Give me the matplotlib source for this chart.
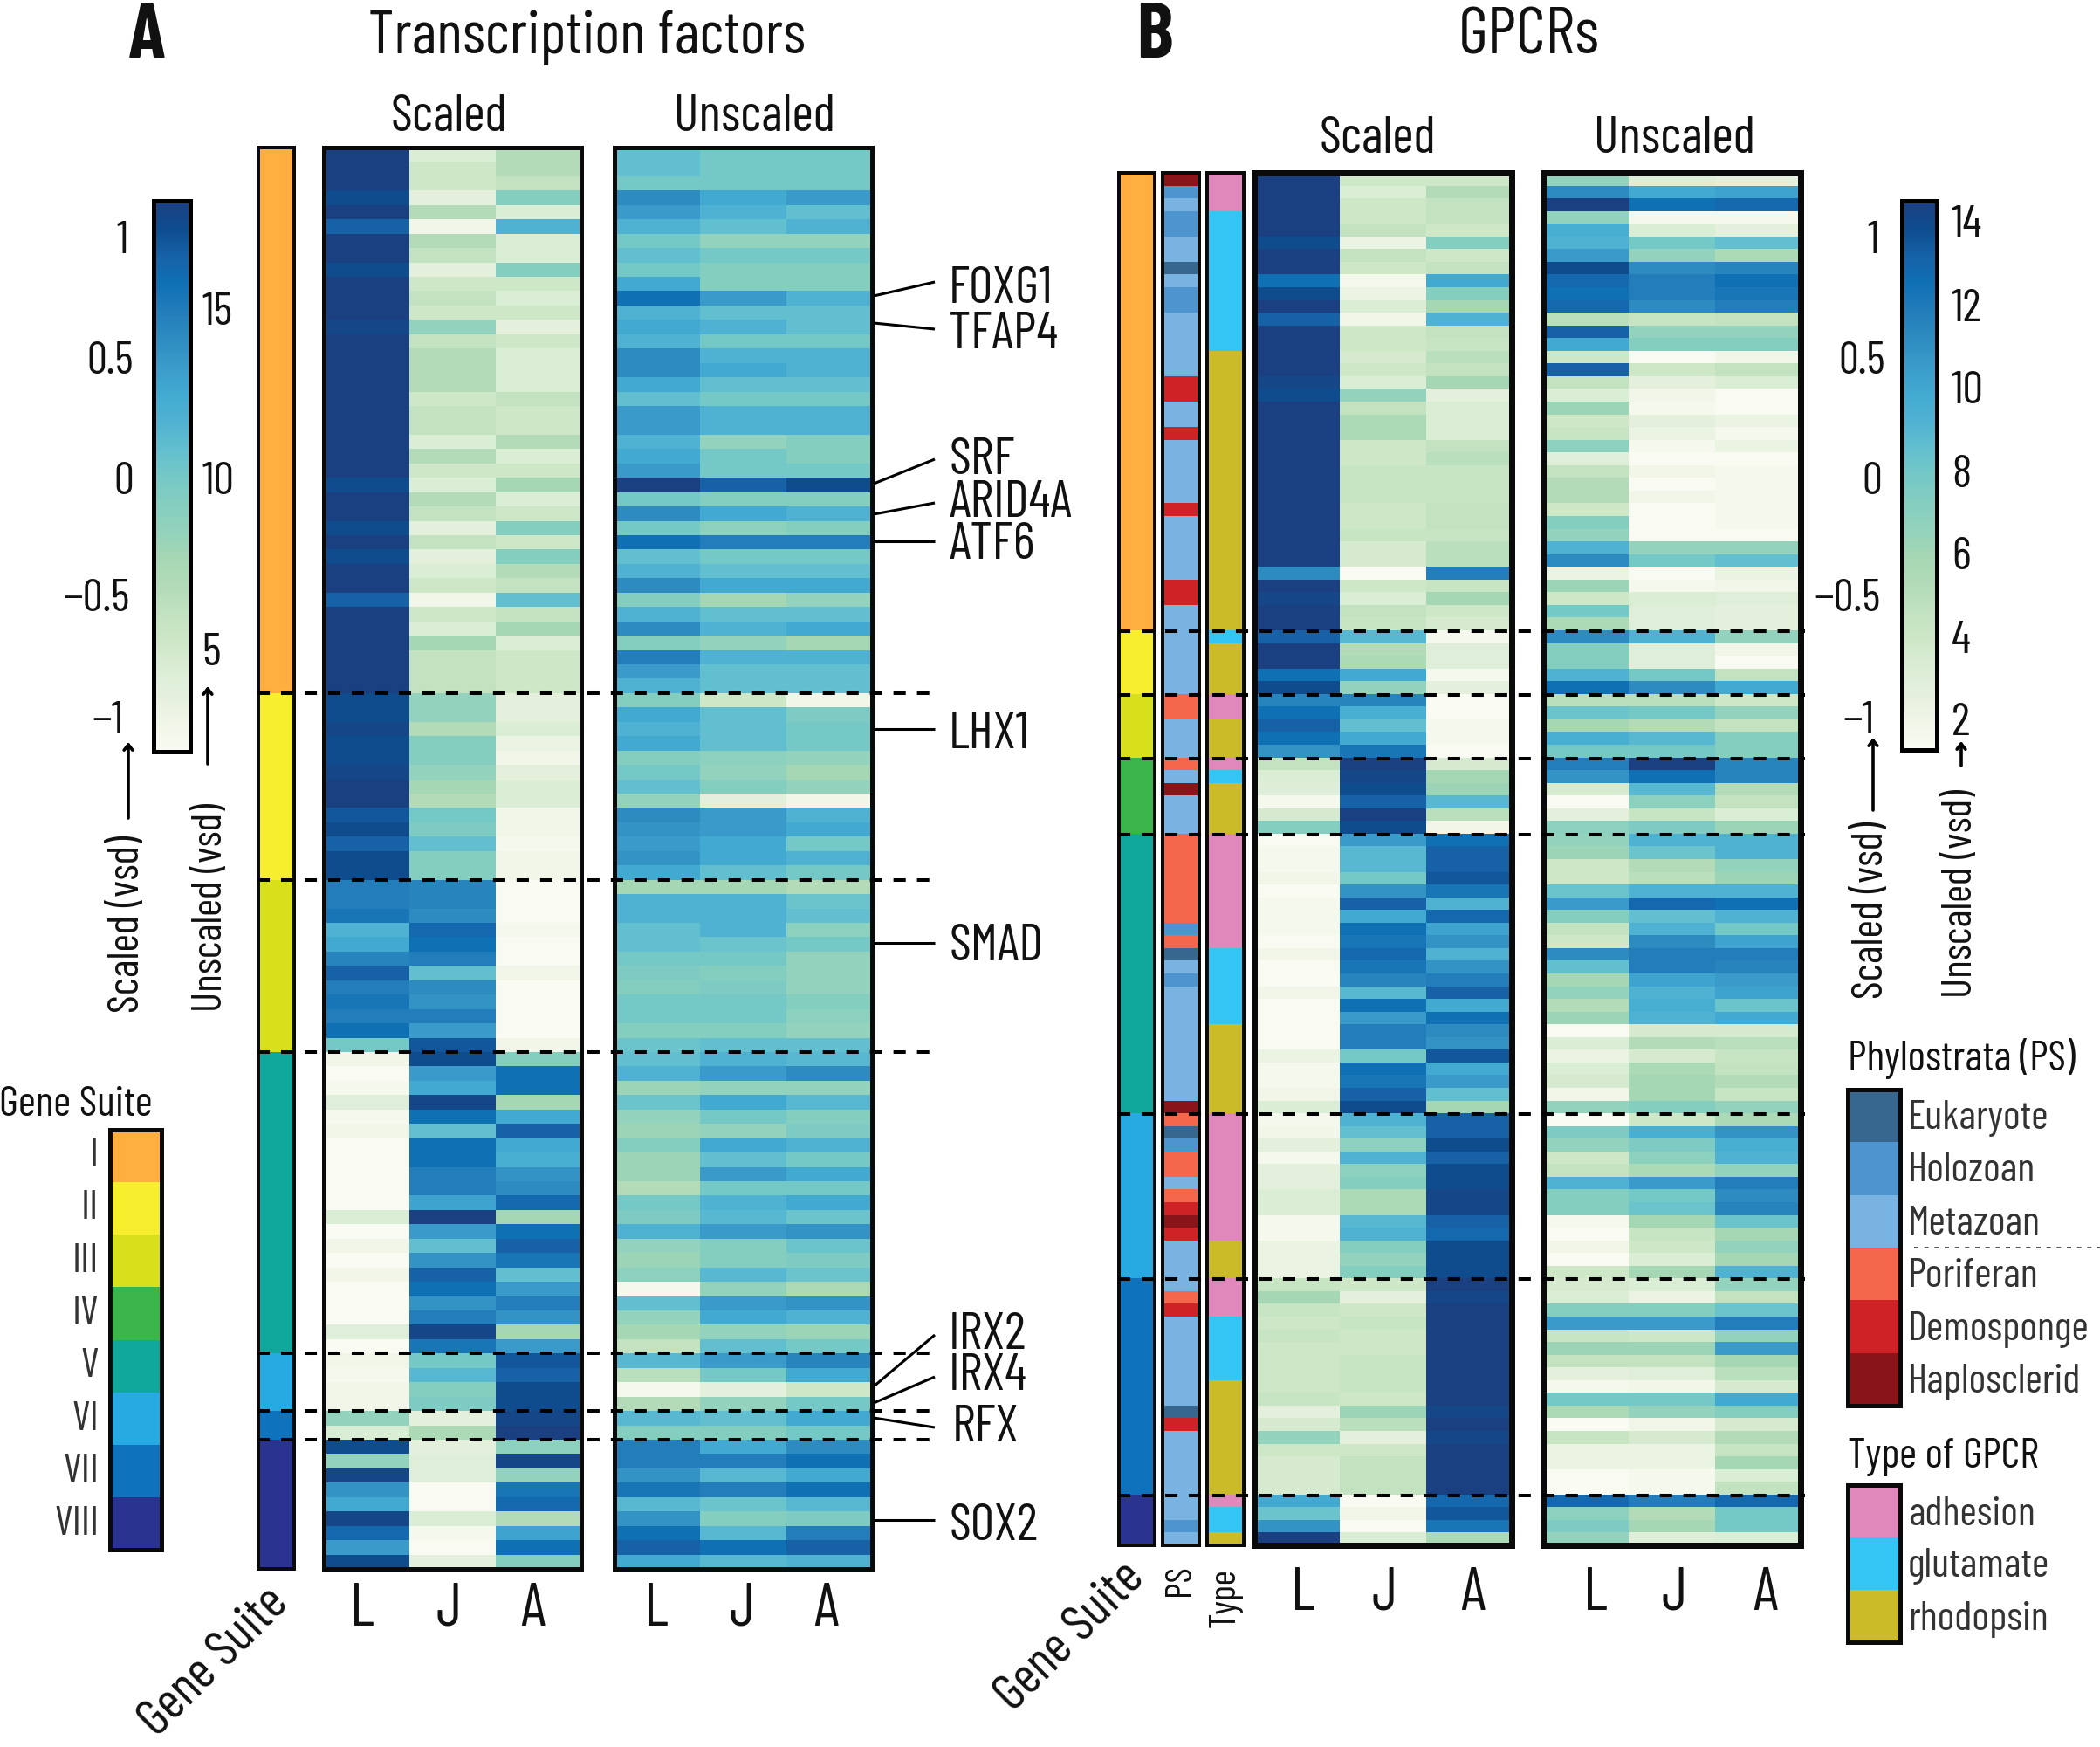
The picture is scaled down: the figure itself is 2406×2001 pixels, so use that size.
import numpy as np
import matplotlib
matplotlib.use("Agg")
import matplotlib.pyplot as plt
from matplotlib.colors import LinearSegmentedColormap, ListedColormap
from matplotlib.cm import ScalarMappable
from matplotlib import font_manager as fm

names = {f.name for f in fm.fontManager.ttflist}
if 'Barlow Condensed' in names:
    FONT, FS = 'Barlow Condensed', 1.0
else:
    FONT, FS = 'Liberation Sans Narrow' if 'Liberation Sans Narrow' in names else 'Roboto', 0.72
plt.rcParams['font.family'] = [FONT, 'DejaVu Sans']

W, H = 2406, 2001

LEVEL_COLORS = ['#F9FBF2', '#F0F6E8', '#E5F0DC', '#DAEDD5', '#CEE7C6', '#C2E2C0', '#B2DBB8', '#A6D7B4',
                '#93D2BC', '#84CEC0', '#75C8C6', '#62BFCF', '#50B2D3', '#42AAD1', '#3A9BCA', '#2E8CC0',
                '#237DBB', '#0F70B4', '#1762A8', '#0D4D8F', '#1A4082']
SUITE_COLORS = ['#FFAE3F', '#F7EE2D', '#D8E01C', '#39B54A', '#10A89C', '#27AAE1', '#0E72BC', '#2A3490']
SUITE_NAMES = ['I', 'II', 'III', 'IV', 'V', 'VI', 'VII', 'VIII']
PS_NAMES = ['Eukaryote', 'Holozoan', 'Metazoan', 'Poriferan', 'Demosponge', 'Haplosclerid']
PS_COLORS = ['#37668F', '#4E94CE', '#78B3E2', '#F4674D', '#CE2226', '#8A1518']
TYPE_NAMES = ['adhesion', 'glutamate', 'rhodopsin']
TYPE_COLORS = ['#E087BC', '#34C5F4', '#CBBB28']
STAGES = ['L', 'J', 'A']

a_counts = [38, 13, 12, 21, 4, 2, 9]
a_suite_ids = [0, 1, 2, 4, 5, 6, 7]
b_counts = [36, 5, 5, 6, 22, 13, 17, 4]

a_scaled = [
 [20,3,6],[20,4,6],[20,4,5],[19,2,9],[20,6,3],[18,1,12],[20,6,3],[20,5,3],[19,2,9],[20,4,4],[20,5,3],[20,4,4],[19.5,8,2],
 [20,5,4],[20,6,3],[20,6,3],[20,6,3],[20,4,5],[20,5,4],[20,5,4],[20,3,6],[20,6,3],[20,4,4],[19,3,7],[20,6,3],[20,5,4],
 [19,2,9],[20,5,4],[19,2,9],[20,3,6],[20,4,5],[18,1,11],[20,4,5],[20,3,7],[20,7,3],[20,5,4],[20,5,4],[20,5,4],
 [19,8,2],[19,8,2],[19.5,6,3],[19,9,1.5],[19,9,1],[19.5,8,2],[20,7,3],[20,6,3],[18.5,10,1],[19,9.5,1],[18,11,0.5],[19,9,1],[19,9,1],
 [16,15.5,0],[16,15.5,0],[16.5,15,0],[12,17.5,0.5],[13,17,0],[15.5,16,0],[18,11,1],[16,15,0],[16.5,14.5,0],[16,16,0],[17,14,0],[10,18.5,1],
 [1,19,9],[0,14,17],[0.5,13,17],[2.5,19.5,7],[0.5,17,13],[1,11,18],[0,17,13],[0,17,12.5],[0,16,14.5],[0,16,15],[0,13.5,17.5],
 [3,20,7],[0,14,17],[1,11,18],[0,14.5,16.5],[1,18,11],[0,17,14],[0,14.5,16],[0,16,14.5],[2.5,19.5,7],[0,16.5,14],
 [1,10,18.5],[0.5,11.5,18],[1,9,19],[1,9.5,19],
 [8,2,19.5],[3,6.5,20],
 [19,2,8.5],[8,2.5,19.5],[19.5,2.5,8],[14.5,0,16.5],[13,0,17.5],[19.5,3,6],[17.5,0.5,13.5],[14,0,17],[19,2,9],
]
a_unscaled = [
 [11,10,10],[11,10,10],[10,10,10],[15,13,14],[14,12,11],[12,11,12],[10,8,8],[11,10,10],[10,9,9],[13,9,9],[17,14,12],[12,11,11],[13,12,11],
 [12,10,10],[15,12,12],[15,13,12],[13,11,11],[11,10,10],[14,12,12],[14,12,12],[12,8,9],[13,10,9],[14,10,10],[20,18,19],[10,9,9],[15,13,12],
 [10,8.5,9],[17,16,16],[11,10,10],[12,11,11],[15,13,13],[9,7,8],[12,11,11],[15,12,13],[9,8,7],[16,12,12],[14,11,11],[12,11,11],
 [9,4,1],[13,11,9.5],[12,11,10],[13,11,10],[9,8.5,8],[10,8,7],[11,9,8],[8,2,1],[15,14,12],[14.5,14,13],[14,13,10],[14.5,13,12],[13,11,10],
 [7,7,6],[12,12,10.5],[12,12,11],[11,12,8.5],[11,10.5,10],[10,10,8],[9.5,9,8],[9,9.5,8],[10,10,9],[10,10,8.5],[9,9,8],[10.5,11,11],
 [11,12,11.5],[12,14,15],[7.5,8,8],[10.5,13,11.5],[8,10,9],[7.5,8,9.5],[9,13,12],[7.5,11,10],[7.5,14,13],[6,10,10],[10,12,13],
 [9.5,11.5,10.5],[12,14,14.5],[8,9,10.5],[7.5,9,9.5],[8.5,11.5,10.5],[0.5,8,6.5],[11,14,14.5],[8,13,12],[7,8,7.5],[5,11,10],
 [11.5,14,15.5],[5.5,10,13],[0.5,2,4],[6,8,10],
 [11.5,11,13],[9,9,10],
 [16,13,15],[16,16,17],[14.5,11.5,13],[16.5,16,17],[11.5,10.5,11.5],[14.5,9,9.5],[17,11.5,16],[18,17,18],[13,11.5,12],
]
b_scaled = [
 [20,4,4],[20,3,6],[20,4,5],[20,4,5],[20,5,4],[19,1.5,9],[20,5,4],[20,4,5],[17,0.5,13],[19,1.5,9],[20,3,7],[18,1,12],
 [20,4,5],[20,4,4.5],[20,3.5,5.5],[20,4,5],[19.5,3,7],[19,8,2],[20,5,3],[20,6.5,3],[20,6.5,3],[20,4,5],[20,4,5.5],[20,4.5,4.5],
 [20,4.5,4.5],[20,4.5,4.5],[20,4,5],[20,4,5],[20,4.5,4.5],[20,3.5,5.5],[20,3.5,5.5],[15,0,16],[20,4,4.5],[19.5,3,7],[20,5,4],[20,4.5,3.5],
 [18,11.5,0.5],[20,6,2.5],[20,6.5,2.5],[17,13,0.5],[19,8,2],
 [15.5,15.5,0],[17,12.5,0],[18,11,0.5],[17,13,0.5],[14.5,16.5,0],
 [5,20,3.5],[3,19.5,7],[2.5,19,7.5],[0.5,18,11.5],[3.5,20,5.5],[9,19,1],
 [0,14,17],[0.5,11.5,18],[0.5,11.5,18],[1,10,18.5],[0,14.5,16.5],[0.5,18,12],[0.5,13,17.5],[0.5,17,13.5],[0,16.5,14.5],[1,17.5,12],[0,16.5,14.5],
 [0,15.5,16],[1,11.5,18],[0,17,13],[0,14,17],[0,16,15],[0,16,14.5],[1.5,10,18.5],[0.5,17,13],[0.5,16.5,14],[1,18,11],[3,19,7],
 [0.5,12,18],[1,11,18],[2,8.5,19],[0.5,12,18],[2,8.5,19],[2,9,19],[3,6.5,19.5],[3,6.5,19.5],[0.5,11.5,18],[0.5,12,17.5],[1.5,9,19],[1.5,8,19],[1.5,9,19],
 [4.5,4,20],[7,2,19.5],[4.5,4,20],[4,4.5,20],[4.5,4,20],[4,4,20],[4,4.5,20],[4,4.5,20],[4,4.5,20],[4.5,4,20],[2,7.5,19.5],[3.5,5.5,20],[8,2,19.5],
 [4,4,20],[3.5,5,20],[3.5,5,20],[3.5,5,20],
 [13,0,17.5],[10.5,1,18.5],[14.5,0,16.5],[20,3,6.5],
]
b_unscaled = [
 [8,2.5,2],[15,13,13.5],[20,17,17.5],[8,0.5,0.5],[12.5,3,2],[12,10,11],[14,8,6.5],[19,15,15.5],[17.5,16,17],[17,16,16.5],[17.5,15,16],[5.5,4.5,5],
 [18,8,8],[13,9,9],[4,0,1],[18,4,5],[5,2,3],[3,1,0],[7.5,0.5,0],[4,2,1.5],[4.5,1.5,0.5],[8.5,0.5,1.5],[2.5,0,0],[5,1,0.5],
 [6,0,0.5],[6,1,0.5],[4,0,0.5],[9,0,0.5],[8,0,0],[12,8,8],[15,10,11],[1.5,0,1.5],[7.5,0.5,1],[4,3,2.5],[10,2.5,2],[6.5,2.5,2],
 [15,12,8],[9,2.5,1],[9,2.5,0],[12,10,5],[17,15,13],
 [5.5,5.5,4],[10.5,10,8],[7,6,5],[12.5,11.5,9],[10,10,9],
 [16,20,15.5],[14.5,17,15.5],[3.5,11.5,6],[0,8.5,5],[2,4.5,3],[8.5,9.5,7.5],
 [8,12,12],[7.5,10.5,12],[4,6,8],[4,5.5,7.5],[10.5,12,12],[14,17.5,17],[9,11,12],[5,12,10],[4,15,13.5],[15,16,16],[11,16,15.5],
 [7,13.5,14],[8,12,13.5],[6,12.5,10.5],[7.5,12,13],[0,3.5,3.5],[3,6,5.5],[1.5,3.5,4.5],[3,6.5,5],[3.5,7,6],[1,7,4.5],[8,9,8],
 [0,4,6.5],[9.5,12.5,14.5],[8,9.5,12.5],[4,8.5,12],[5,6.5,8],[12,14,16],[9,10,15],[9,10.5,15.5],[0.5,7,10.5],[0,4.5,7],[1,4,8],[0,3,7],[4,7,12],
 [3.5,3,8],[3,1.5,5],[9,9,10.5],[14,14,16],[4.5,4,8],[7.5,7.5,14],[5,5,7],[2,2.5,5.5],[0.5,1,3.5],[10,10,13],[6.5,8,9],[0,1,3.5],[4.5,3.5,6],
 [1.5,1.5,4.5],[1.5,1.5,7],[0,0.5,3],[0,0.5,5],
 [17.5,16,17.5],[8.5,6,10],[9.5,7,10],[8,2.5,3],
]
# phylostrata and GPCR type, one letter per row
b_ps = ('KHMHHMMEMHHMMMMMDDMMDMMMMMDMMMMMDDMM' 'MMMMM' 'PPMMM' 'PMKMMM'
        'PPPPPPPHPEMHMMMMMMMMMK' 'PEHPPMPDKDMMM' 'MPDMMMMMMMEDMMMMM' 'MMHM')
b_type = ('AAA' 'GGGGGGGGGGG' + 'R' * 22 + 'GRRRR' 'AARRR' 'AGRRRR'
          + 'A' * 9 + 'G' * 6 + 'R' * 7 + 'A' * 10 + 'RRR' + 'AAA' 'GGGGG' + 'R' * 9 + 'AGGR')

cmap = LinearSegmentedColormap.from_list('heat', LEVEL_COLORS, N=256)
fig = plt.figure(figsize=(W / 100, H / 100), dpi=100, facecolor='white')


def make_ax(x0, y0, x1, y1, lw=4):
    ax = fig.add_axes([x0 / W, 1 - y1 / H, (x1 - x0) / W, (y1 - y0) / H])
    ax.set_xticks([]); ax.set_yticks([])
    for s in ax.spines.values():
        s.set_linewidth(lw * 0.72)
        s.set_color('#0a0a0a')
    return ax


def heat(box, rows, lw):
    ax = make_ax(*box, lw=lw)
    ax.pcolormesh(np.array(rows, float), cmap=cmap, vmin=0, vmax=20, rasterized=True)
    ax.invert_yaxis()
    return ax


def strip(box, ids, colors, lw=4):
    ax = make_ax(*box, lw=lw)
    ax.pcolormesh(np.array(ids)[:, None], cmap=ListedColormap(colors), vmin=-0.5, vmax=len(colors) - 0.5)
    ax.invert_yaxis()
    return ax


# Panel A ------------------------------------------------------------
A_Y0, A_Y1 = 169, 1797
a_ids = np.repeat(a_suite_ids, a_counts)
strip((296, A_Y0, 337, A_Y1), a_ids, SUITE_COLORS)
heat((371, A_Y0, 666, A_Y1), a_scaled, 5)
heat((704, A_Y0, 999, A_Y1), a_unscaled, 5)

# Panel B ------------------------------------------------------------
B_Y0, B_Y1 = 198, 1770
b_ids = np.repeat(np.arange(8), b_counts)
strip((1282, B_Y0, 1323, B_Y1), b_ids, SUITE_COLORS)
PS_KEY = 'EHMPDK'
TYPE_KEY = 'AGR'
strip((1332, B_Y0, 1374, B_Y1), [PS_KEY.index(c) for c in b_ps], PS_COLORS)
strip((1383, B_Y0, 1425, B_Y1), [TYPE_KEY.index(c) for c in b_type], TYPE_COLORS)
heat((1437, B_Y0, 1732, B_Y1), b_scaled, 7)
heat((1768, B_Y0, 2063, B_Y1), b_unscaled, 7)

# Colour bars --------------------------------------------------------
for box in [(176, 230, 218, 861), (2179, 230, 2219, 859)]:
    cax = make_ax(*box, lw=5)
    cb = fig.colorbar(ScalarMappable(cmap=cmap), cax=cax, ticks=[])
    cb.outline.set_linewidth(3.6)
    cb.solids.set_rasterized(True)

# Legend boxes -------------------------------------------------------
def legend(box, colors):
    ax = make_ax(*box, lw=5)
    ax.pcolormesh(np.arange(len(colors))[:, None], cmap=ListedColormap(colors), vmin=-0.5, vmax=len(colors) - 0.5)
    ax.invert_yaxis()

legend((126, 1294, 185, 1775), SUITE_COLORS)
legend((2117, 1248, 2177, 1610), PS_COLORS)
legend((2117, 1701, 2177, 1881), TYPE_COLORS)

# Overlay in pixel coordinates ---------------------------------------
ov = fig.add_axes([0, 0, 1, 1], zorder=10)
ov.set_xlim(0, W); ov.set_ylim(H, 0); ov.axis('off'); ov.patch.set_alpha(0)

def T(x, y, s, size=42, ha='center', va='center', color='#111111', rotation=0, **kw):
    # small optical offset so the glyph centres sit on the measured positions
    dx, dy = (4, 0) if rotation == 90 else ((0, 0) if rotation else (0, 4))
    ov.text(x + dx, y + dy, s, fontsize=size * FS, ha=ha, va=va, color=color, rotation=rotation, **kw)

# dashed section lines from the section sizes
dash = dict(color='black', lw=2.9, dashes=(3.5, 3.2))
a_edges = np.cumsum(a_counts)[:-1]
for n in a_edges:
    y = A_Y0 + (A_Y1 - A_Y0) * n / sum(a_counts)
    ov.plot([295, 1075 if n >= 72 + 22 else 1067], [y, y], **dash)
b_edges = np.cumsum(b_counts)[:-1]
for n in b_edges:
    y = B_Y0 + 1 + (B_Y1 - B_Y0) * n / sum(b_counts)
    ov.plot([1281, 2068], [y, y], **dash)

# Titles
T(167, 39, 'A', 64, fontweight='bold')
T(1323, 39, 'B', 64, fontweight='bold')
T(672, 39, 'Transcription factors', 50)
T(1752, 39, 'GPCRs', 54)
for x, y, s in [(514, 131, 'Scaled'), (864, 131, 'Unscaled'), (1578, 156, 'Scaled'), (1918, 156, 'Unscaled')]:
    T(x, y, s, 43)
for xs, y in [((415, 514, 610), 1840), ((752, 850, 946), 1840), ((1493, 1586, 1687), 1822), ((1828, 1918, 2022), 1822)]:
    for x, s in zip(xs, STAGES):
        T(x, y, s, 50)
T(246, 1904, 'Gene Suite', 43, rotation=45)
T(1227, 1875, 'Gene Suite', 43, rotation=45)
T(1348, 1810, 'PS', 30, rotation=90)
T(1400, 1830, 'Type', 30, rotation=90)

# Gene labels with leader lines
genes = ['FOXG1', 'TFAP4', 'SRF', 'ARID4A', 'ATF6', 'LHX1', 'SMAD', 'IRX2', 'IRX4', 'RFX', 'SOX2']
gene_row_y = [339, 370, 554, 589, 620, 835, 1080, 1588, 1607, 1624, 1741]
gene_end_y = [323, 377, 526, 576, 620, 835, 1080, 1529, 1577, 1635, 1741]
gene_text_y = [328, 380, 524, 573, 621, 838, 1081, 1526, 1573, 1632, 1745]
for g, y0, y1, yt in zip(genes, gene_row_y, gene_end_y, gene_text_y):
    ov.plot([1001, 1071], [y0, y1], color='black', lw=2.2, solid_capstyle='butt')
    T(1087 if g != 'RFX' else 1091, yt, g, 43, ha='left')

# Colour bar ticks
for y, s, xr in [(272, '1', 147), (411, '0.5', 153), (548, '0', 153), (683, '\u22120.5', 149), (822, '\u22121', 141)]:
    T(xr, y, s, 37, ha='right')
for y, s in [(354, '15'), (549, '10'), (745, '5')]:
    T(231, y, s, 38, ha='left')
for y, s, xr in [(272, '1', 2153), (411, '0.5', 2160), (548, '0', 2156), (683, '\u22120.5', 2155), (822, '\u22121', 2147)]:
    T(xr, y, s, 37, ha='right')
for y, s in [(255, '14'), (350, '12'), (445, '10'), (540, '8'), (635, '6'), (730, '4'), (824, '2')]:
    T(2236, y, s, 38, ha='left')

arrow = dict(arrowstyle='->,head_width=0.35,head_length=0.45', color='black', lw=2.6, shrinkA=0, shrinkB=0)
for x, y0, y1 in [(147, 937, 850), (238, 875, 786), (2146, 928, 845), (2247, 877, 849)]:
    ov.annotate('', xy=(x, y1), xytext=(x, y0), arrowprops=arrow)
T(143, 1058, 'Scaled (vsd)', 36, rotation=90)
T(238, 1040, 'Unscaled (vsd)', 35, rotation=90)
T(2141, 1043, 'Scaled (vsd)', 36, rotation=90)
T(2243, 1024, 'Unscaled (vsd)', 35, rotation=90)

# Legends
T(87, 1262, 'Gene Suite', 35)
for i, s in enumerate(SUITE_NAMES):
    T(113, 1320 + i * 60.3, s, 34, ha='right', color='#333333')
T(2117, 1208, 'Phylostrata (PS)', 35, ha='left')
for s, y in zip(PS_NAMES, [1277, 1337, 1398, 1458, 1519, 1579]):
    T(2186, y, s, 34, ha='left', color='#333333')
ov.plot([2193, 2406], [1429, 1429], color='#333333', lw=1.2, dashes=(3, 4))
T(2117, 1665, 'Type of GPCR', 35, ha='left')
for s, y in zip(TYPE_NAMES, [1731, 1790, 1851]):
    T(2186, y, s, 34, ha='left', color='#333333')

fig.savefig('out.png', dpi=100, facecolor='white')
